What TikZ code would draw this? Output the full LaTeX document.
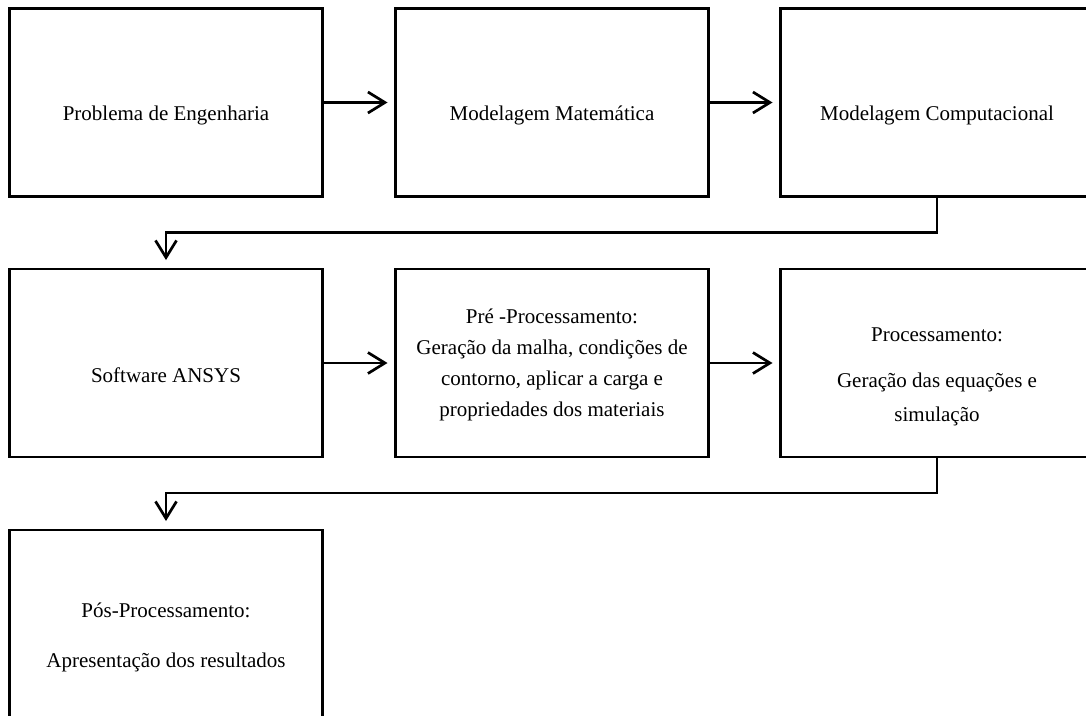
\documentclass[tikz,border=0pt]{standalone}
\usepackage{fontspec}
\setmainfont{Liberation Serif}
\usetikzlibrary{arrows.meta}
\begin{document}
\begin{tikzpicture}[x=1pt,y=-1pt,
  box/.style={draw=black, line width=2.7pt, rectangle, minimum width=313pt, minimum height=188pt, outer sep=0pt, inner sep=0pt},
  txt/.style={align=center, inner sep=0pt, font=\fontsize{21}{31}\selectfont},
  arr/.style={line width=2.7pt, -{Straight Barb[length=17pt,width=21pt]}},
  link/.style={line width=2.7pt, -{Straight Barb[length=17pt,width=21pt]}}]
\useasboundingbox (0,0) rectangle (1086,715);
\clip (0,0) rectangle (1086,715);
\fill[white] (0,0) rectangle (1086,715);
% boxes
\node[box] (b1) at (166,102.5) {};
\node[box] (b2) at (552,102.5) {};
\node[box] (b3) at (937,102.5) {};
\node[box] (b4) at (166,363) {};
\node[box] (b5) at (552,363) {};
\node[box] (b6) at (937,363) {};
\node[box] (b7) at (166,624) {};
% texts
\node[txt] (t1) at (166,115) {Problema de Engenharia};
\node[txt] (t2) at (552,115) {Modelagem Matemática};
\node[txt] (t3) at (937,115) {Modelagem Computacional};
\node[txt] (t4) at (166,375) {Software ANSYS};
\node[txt] (t5) at (552,365) {Pré -Processamento:\\Geração da malha, condições de\\contorno, aplicar a carga e\\propriedades dos materiais};
\node[txt] (t6) at (937,377) {Processamento:\\[15pt]Geração das equações e\\[3pt]simulação};
\node[txt] (t7) at (166,637) {Pós-Processamento:\\[19pt]Apresentação dos resultados};
% connectors
\draw[arr, shorten >=8pt] (b1.east) -- (b2.west);
\draw[arr, shorten >=8pt] (b2.east) -- (b3.west);
\draw[arr, shorten >=8pt] (b4.east) -- (b5.west);
\draw[arr, shorten >=8pt] (b5.east) -- (b6.west);
\draw[link, shorten >=9pt] (b3.south) -- ++(0,36) -| (b4.north);
\draw[link, shorten >=9pt] (b6.south) -- ++(0,36) -| (b7.north);
\end{tikzpicture}
\end{document}
